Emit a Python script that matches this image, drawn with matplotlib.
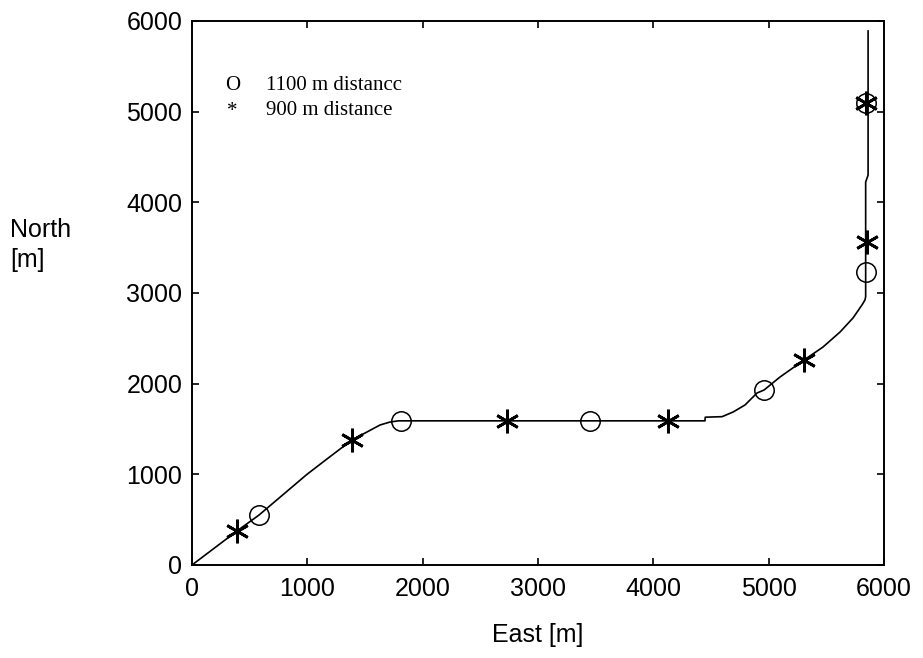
import numpy as np
import matplotlib
matplotlib.use("Agg")
import matplotlib.pyplot as plt

# path of the track (East, North) in metres
east = [0, 390, 581, 997, 1171, 1387, 1517, 1630, 1717, 1790, 4448, 4450, 4596,
        4691, 4795, 4899, 4960, 5098, 5307, 5471, 5619, 5731, 5809, 5835, 5841,
        5841, 5862, 5862]
north = [0, 375, 551, 1000, 1170, 1379, 1467, 1544, 1577, 1590, 1590, 1630, 1636,
         1687, 1765, 1897, 1930, 2073, 2261, 2404, 2570, 2724, 2868, 2923, 2960,
         4224, 4300, 5890]

# marker positions
circ_e = [581, 1812, 3451, 4960, 5841, 5841]
circ_n = [551, 1590, 1590, 1930, 3235, 5092]
star_e = [390, 1387, 2731, 4127, 5307, 5853, 5848]
star_n = [375, 1379, 1590, 1590, 2261, 3562, 5092]

xticks = [0, 1000, 2000, 3000, 4000, 5000, 6000]
yticks = [0, 1000, 2000, 3000, 4000, 5000, 6000]

fig = plt.figure(figsize=(9.23, 6.58), dpi=100)
ax = fig.add_axes([192 / 923, 1 - 565 / 658, 692 / 923, 544 / 658])

ax.plot(east, north, color="black", lw=1.2)
ax.plot(circ_e, circ_n, "o", ms=14, mfc="none", mec="black", mew=1.1)
ax.plot(star_e, star_n, marker=(6, 2, 0), ls="none", ms=17, mec="black", mew=2)

ax.set_xlim(0, 6000)
ax.set_ylim(0, 6000)
ax.set_xticks(xticks)
ax.set_yticks(yticks)
ax.tick_params(direction="in", length=5, width=1.2, top=True, right=True, labelsize=18)
ax.tick_params(axis="x", pad=9)
ax.tick_params(axis="y", pad=7)
for lab in ax.get_xticklabels() + ax.get_yticklabels():
    lab.set_family("Liberation Sans")
for sp in ax.spines.values():
    sp.set_linewidth(1.4)

# legend written as plain text, like the original
serif = dict(transform=ax.transAxes, family="Liberation Serif", fontsize=15, va="center")
ax.text(0.048, 0.882, "O", **serif)
ax.text(0.107, 0.882, "1100 m distancc", **serif)
ax.text(0.050, 0.834, "*", **serif)
ax.text(0.107, 0.836, "900 m distance", **serif)

fig.text(10 / 923, 1 - 245 / 658, "North\n[m]", family="Liberation Sans",
         fontsize=18, ha="left", va="center", linespacing=1.3)
fig.text(538 / 923, 1 - 635 / 658, "East [m]", family="Liberation Sans",
         fontsize=18, ha="center", va="center")

fig.savefig("out.png", dpi=100)
